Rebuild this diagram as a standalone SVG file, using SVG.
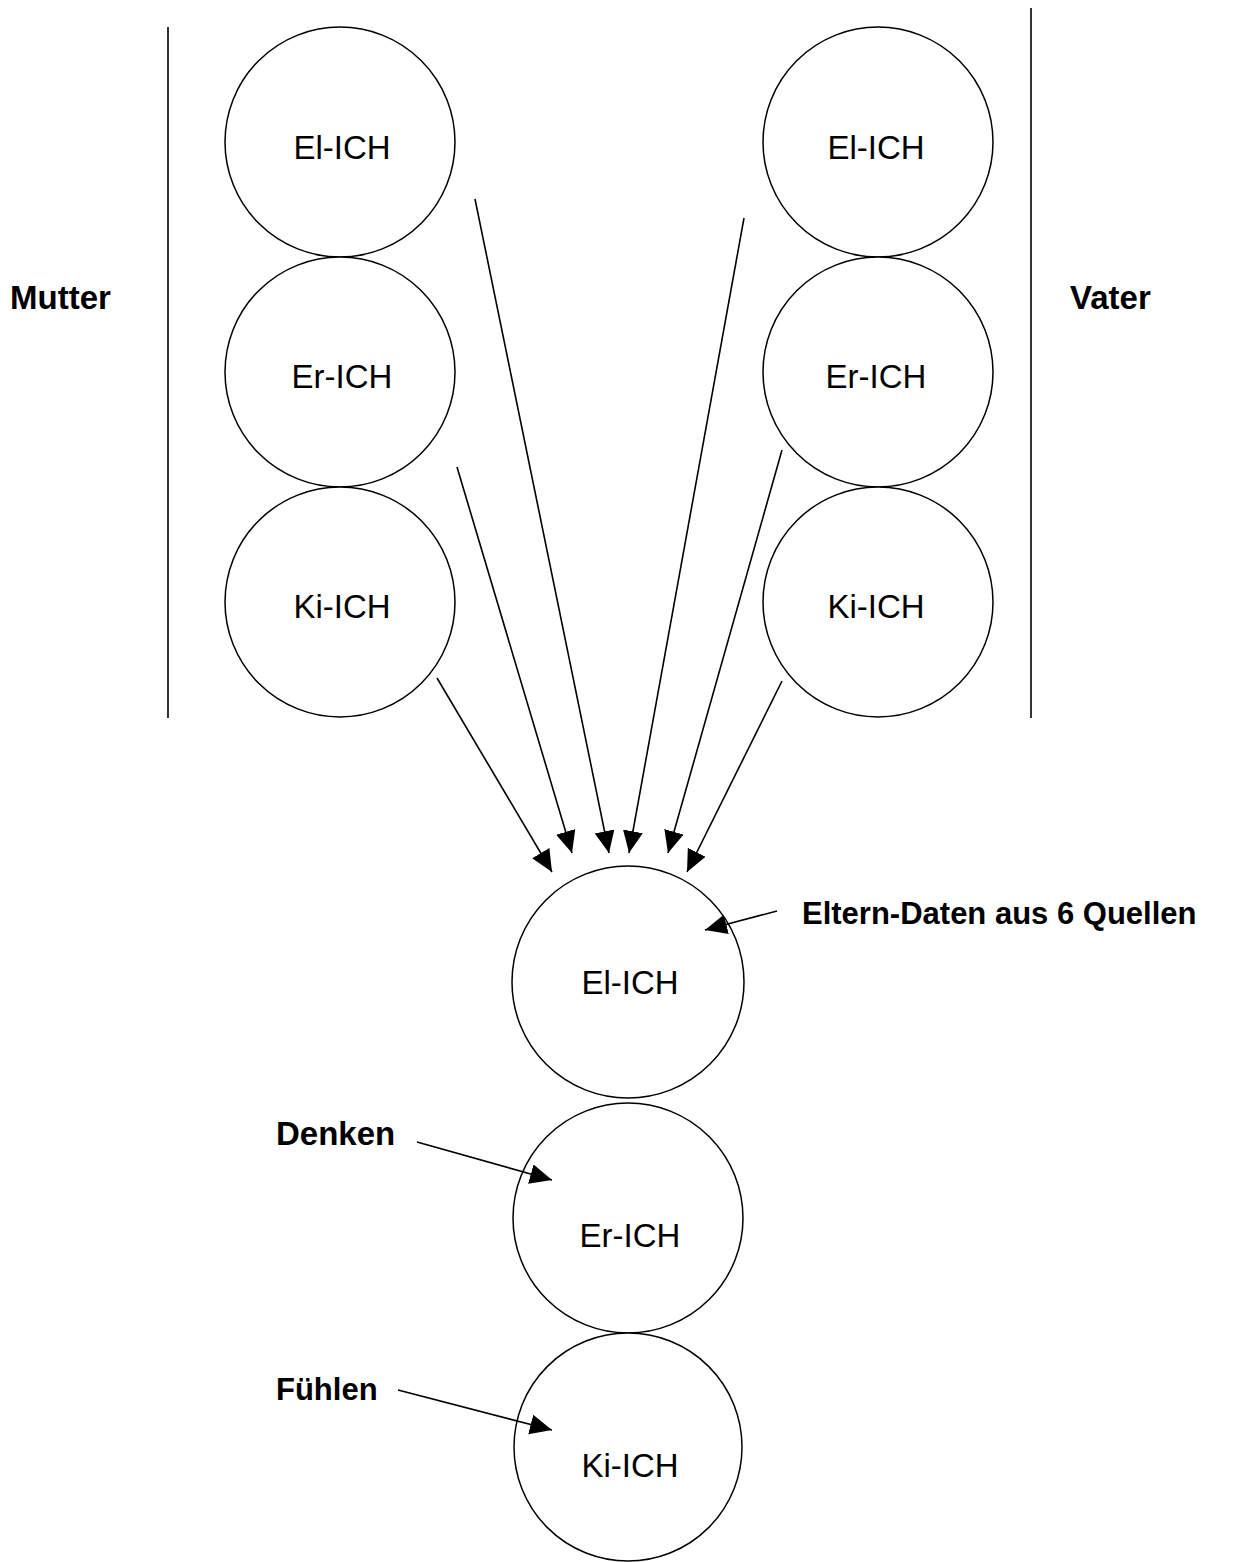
<svg xmlns="http://www.w3.org/2000/svg" width="1250" height="1562" viewBox="0 0 1250 1562">
<defs>
<style>
.c{fill:#fff;stroke:#000;stroke-width:1.5}
.t{font-family:"Liberation Sans",Arial,sans-serif;font-size:33px;fill:#000;text-anchor:middle}
.b{font-family:"Liberation Sans",Arial,sans-serif;font-size:31px;font-weight:bold;fill:#000}
.a{stroke:#000;stroke-width:1.6;fill:none;marker-end:url(#ah)}
.v{stroke:#000;stroke-width:1.6}
</style>
<marker id="ah" markerUnits="userSpaceOnUse" markerWidth="24" markerHeight="22" refX="22" refY="10" orient="auto">
<path d="M0,0 L22,10 L0,20 Z" fill="#000"/>
</marker>
</defs>
<rect width="1250" height="1562" fill="#fff"/>
<g id="dividers">
<line class="v" x1="168" y1="27" x2="168" y2="718"/>
<line class="v" x1="1031" y1="8" x2="1031" y2="718"/>
</g>
<g id="mutter-el"><circle class="c" cx="340" cy="142" r="115"/><text class="t" x="342" y="159">El-ICH</text></g>
<g id="mutter-er"><circle class="c" cx="340" cy="372" r="115"/><text class="t" x="342" y="388">Er-ICH</text></g>
<g id="mutter-ki"><circle class="c" cx="340" cy="602" r="115"/><text class="t" x="342" y="618">Ki-ICH</text></g>
<g id="vater-el"><circle class="c" cx="878" cy="142" r="115"/><text class="t" x="876" y="159">El-ICH</text></g>
<g id="vater-er"><circle class="c" cx="878" cy="372" r="115"/><text class="t" x="876" y="388">Er-ICH</text></g>
<g id="vater-ki"><circle class="c" cx="878" cy="602" r="115"/><text class="t" x="876" y="618">Ki-ICH</text></g>
<g id="kind-el"><circle class="c" cx="628" cy="982" r="116"/><text class="t" x="630" y="994">El-ICH</text></g>
<g id="kind-er"><circle class="c" cx="628" cy="1218" r="115"/><text class="t" x="630" y="1247">Er-ICH</text></g>
<g id="kind-ki"><circle class="c" cx="628" cy="1447" r="114"/><text class="t" x="630" y="1477">Ki-ICH</text></g>
<g id="labels">
<text class="b" x="10" y="309" style="font-size:33px">Mutter</text>
<text class="b" x="1070" y="309" style="font-size:33px">Vater</text>
<text class="b" x="802" y="924">Eltern-Daten aus 6 Quellen</text>
<text class="b" x="276" y="1145" style="font-size:33px">Denken</text>
<text class="b" x="276" y="1400">Fühlen</text>
</g>
<g id="connectors">
<line class="a" x1="437" y1="678" x2="552" y2="872"/>
<line class="a" x1="457" y1="467" x2="572" y2="853"/>
<line class="a" x1="475" y1="199" x2="609" y2="853"/>
<line class="a" x1="744" y1="218" x2="629" y2="853"/>
<line class="a" x1="782" y1="450" x2="668" y2="853"/>
<line class="a" x1="782" y1="681" x2="687" y2="872"/>
<line class="a" x1="777" y1="911" x2="705" y2="930"/>
<line class="a" x1="417" y1="1142" x2="552" y2="1180"/>
<line class="a" x1="398" y1="1390" x2="552" y2="1430"/>
</g>
</svg>
